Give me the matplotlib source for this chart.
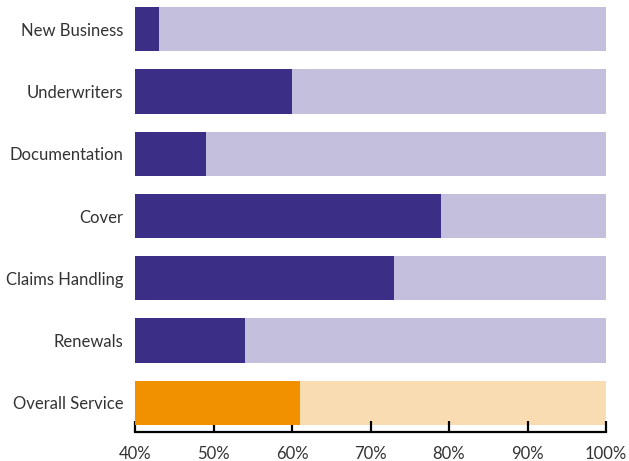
import matplotlib

matplotlib.use("Agg")
import matplotlib.pyplot as plt
from matplotlib.ticker import FuncFormatter

# satisfaction share per service area (top to bottom)
categories = [
    "New Business",
    "Underwriters",
    "Documentation",
    "Cover",
    "Claims Handling",
    "Renewals",
    "Overall Service",
]
values = [43, 60, 49, 79, 73, 54, 61]
full = [100] * len(categories)

C_DARK = "#3b2e86"
C_LIGHT = "#c3bfdd"
C_ORANGE = "#f29100"
C_PEACH = "#fadcb2"

plt.rcParams["font.family"] = ["Lato", "DejaVu Sans"]

fig = plt.figure(figsize=(6.29, 4.61), dpi=100)
ax = fig.add_axes([135 / 629, 29 / 461, 471 / 629, 432 / 461])

y = list(range(len(categories)))
fg = [C_ORANGE if c == "Overall Service" else C_DARK for c in categories]
bg = [C_PEACH if c == "Overall Service" else C_LIGHT for c in categories]

ax.barh(y, full, height=0.71, color=bg, zorder=1)
ax.barh(y, values, height=0.71, color=fg, zorder=2)

ax.set_xlim(40, 100)
ax.set_ylim(6.47, -0.47)
ax.set_xticks(range(40, 101, 10))
ax.xaxis.set_major_formatter(FuncFormatter(lambda v, _: f"{v:.0f}%"))
ax.set_yticks(y)
ax.set_yticklabels(categories)

for s in ("top", "right", "left"):
    ax.spines[s].set_visible(False)
ax.spines["bottom"].set_linewidth(1.6)
ax.spines["bottom"].set_color("black")
ax.tick_params(axis="y", length=0, pad=8.5, labelsize=12, labelcolor="#333333")
ax.tick_params(axis="x", direction="in", length=8, width=1.6, pad=10,
               labelsize=12, labelcolor="#333333")

fig.savefig("out.png", dpi=100)
